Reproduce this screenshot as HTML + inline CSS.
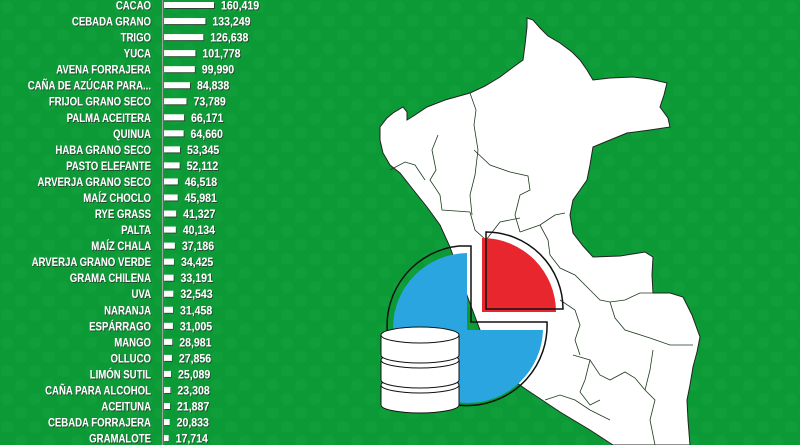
<!DOCTYPE html>
<html><head><meta charset="utf-8">
<style>
html,body{margin:0;padding:0;}
body{width:800px;height:445px;overflow:hidden;background:#0b9a36;}
svg{display:block;}
text{font-family:"Liberation Sans",sans-serif;font-weight:bold;}
</style></head>
<body>
<svg id="chart" width="800" height="445" viewBox="0 0 800 445">
  <defs>
    <pattern id="dots" width="28" height="28" patternUnits="userSpaceOnUse">
      <circle cx="7" cy="7" r="6" fill="#14a13e"/>
      <circle cx="21" cy="21" r="6" fill="#14a13e"/>
    </pattern>
    <filter id="sh" x="-5%" y="-20%" width="110%" height="140%">
      <feDropShadow dx="1" dy="1" stdDeviation="0.3" flood-color="#333" flood-opacity="0.8"/>
    </filter>
  </defs>
  <rect width="800" height="445" fill="#0b9a36"/>
  <rect width="800" height="445" fill="url(#dots)" opacity="0.6"/>

  <g>
    <path fill="#fff" stroke="#222" stroke-width="1"
      d="M527,18 L533,20 L540,28 L548,36 L560,43 L572,52 L580,60 L587,70 L593,80 L610,78 L633,77 L650,79 L667,83 L664,95 L660,107 L668,118 L670,127 L650,130 L627,133 L610,140 L593,147 L590,165 L587,180 L580,190 L573,200 L570,215 L573,233 L583,246 L593,257 L620,256 L645,252 L653,257 L652,275 L653,293 L670,293 L683,297 L692,315 L700,337 L697,352 L693,367 L690,385 L687,400 L688,420 L690,445 L613,445 L590,430 L560,412 L527,390 L517,383 L500,365 L480,330 L465,290 L450,247 L440,225 L427,207 L415,192 L400,173 L390,165 L383,153 L380,140 L380,127 L387,118 L393,113 L403,107 L407,112 L407,120 L415,115 L427,107 L445,100 L470,93 L485,86 L500,77 L512,68 L523,60 L525,45 L527,27 Z"/>
    <g fill="none" stroke="#1d3a1d" stroke-width="0.8">
      <path d="M470,93 L476,110 L474,125 L478,150 L475,175 L470,195 L472,215"/>
      <path d="M438,135 L432,150 L436,170 L430,180 L440,195 L442,210 L470,212"/>
      <path d="M474,150 L490,165 L510,172 L528,176 L530,190 L520,195 L515,215 L520,232"/>
      <path d="M390,170 L405,162 L415,165 L425,180"/>
      <path d="M470,212 L475,230 L486,240 L500,222 L520,218"/>
      <path d="M520,232 L540,225 L555,215 L565,213"/>
      <path d="M540,225 L548,240 L550,255 L560,268 L575,275 L590,290 L600,300 L610,302 L625,300 L640,293 L653,293"/>
      <path d="M610,302 L615,318 L625,330 L650,338 L670,345 L693,345"/>
      <path d="M560,300 L575,310 L580,325 L575,340 L580,355"/>
      <path d="M573,355 L590,360 L600,375 L610,380 L625,372 L635,378 L645,390 L655,400 L650,420 L655,445"/>
      <path d="M590,360 L585,380 L580,392 L590,405 L600,400"/>
      <path d="M653,350 L650,370 L645,390"/>
      <path d="M545,400 L560,395 L575,400 L590,410 L610,420"/>
    </g>
  </g>

  <g>
    <path d="M467,253 A75,75 0 1,0 543,330 L467,330 Z" fill="#2ba5df"/>
    <path d="M459,246 L471,246 L471,322 L547,322 A80,80 0 1,1 459,246 Z" fill="none" stroke="#111" stroke-width="1.5"/>
    <path d="M482,238 A74,74 0 0,1 556,312 L482,312 Z" fill="#e8262d"/>
    <path d="M486,232 A77,77 0 0,1 563,309 L486,309 Z" fill="none" stroke="#111" stroke-width="1.5"/>
  </g>
  <g stroke="#111" stroke-width="1">
    <path d="M381,385 L381,405 A39,8 0 0,0 459,405 L459,385 Z" fill="#fff"/>
    <ellipse cx="420" cy="385" rx="39" ry="8" fill="#fff"/>
    <path d="M381,360 L381,380 A39,8 0 0,0 459,380 L459,360 Z" fill="#fff"/>
    <ellipse cx="420" cy="360" rx="39" ry="8" fill="#fff"/>
    <path d="M381,335 L381,355 A39,8 0 0,0 459,355 L459,335 Z" fill="#fff"/>
    <ellipse cx="420" cy="335" rx="39" ry="8" fill="#fff"/>
  </g>

  <line x1="162.5" y1="0" x2="162.5" y2="445" stroke="#9aa69a" stroke-width="1"/>
  <g id="bars"></g>
</svg>
<script>
const categories = ["CACAO","CEBADA GRANO","TRIGO","YUCA","AVENA FORRAJERA","CAÑA DE AZÚCAR PARA...","FRIJOL GRANO SECO","PALMA ACEITERA","QUINUA","HABA GRANO SECO","PASTO ELEFANTE","ARVERJA GRANO SECO","MAÍZ CHOCLO","RYE GRASS","PALTA","MAÍZ CHALA","ARVERJA GRANO VERDE","GRAMA CHILENA","UVA","NARANJA","ESPÁRRAGO","MANGO","OLLUCO","LIMÓN SUTIL","CAÑA PARA ALCOHOL","ACEITUNA","CEBADA FORRAJERA","GRAMALOTE"];
const values = [160419,133249,126638,101778,99990,84838,73789,66171,64660,53345,52112,46518,45981,41327,40134,37186,34425,33191,32543,31458,31005,28981,27856,25089,23308,21887,20833,17714];
const valueLabels = ["160,419","133,249","126,638","101,778","99,990","84,838","73,789","66,171","64,660","53,345","52,112","46,518","45,981","41,327","40,134","37,186","34,425","33,191","32,543","31,458","31,005","28,981","27,856","25,089","23,308","21,887","20,833","17,714"];

const NS = "http://www.w3.org/2000/svg";
const g = document.getElementById("bars");
const x0 = 163, xMaxPx = 51, vMax = 160419;
function xScale(v){ return x0 + v / vMax * xMaxPx; }
function yScale(i){ return 5 + i * 16.04; }
categories.forEach(function(c, i){
  const y = yScale(i);
  const lab = document.createElementNS(NS, "text");
  
  
  lab.setAttribute("transform", "translate(151," + (y + 4.5) + ") scale(0.8,1)");
  lab.setAttribute("text-anchor", "end"); lab.setAttribute("font-size", "12");
  lab.setAttribute("fill", "#fff"); lab.setAttribute("filter", "url(#sh)");
  lab.textContent = c; g.appendChild(lab);
  const r = document.createElementNS(NS, "rect");
  
  
  r.setAttribute("x", x0 + 1); r.setAttribute("y", y - 3);
  r.setAttribute("width", Math.max(1, xScale(values[i]) - x0 - 1)); r.setAttribute("height", 6);
  r.setAttribute("fill", "#fff"); r.setAttribute("filter", "url(#sh)");
  g.appendChild(r);
  const vl = document.createElementNS(NS, "text");
  
  
  vl.setAttribute("transform", "translate(" + (xScale(values[i]) + 7) + "," + (y + 4.5) + ") scale(0.88,1)");
  vl.setAttribute("font-size", "12"); vl.setAttribute("fill", "#fff"); vl.setAttribute("filter", "url(#sh)");
  vl.textContent = valueLabels[i]; g.appendChild(vl);
});
</script>
</body></html>
